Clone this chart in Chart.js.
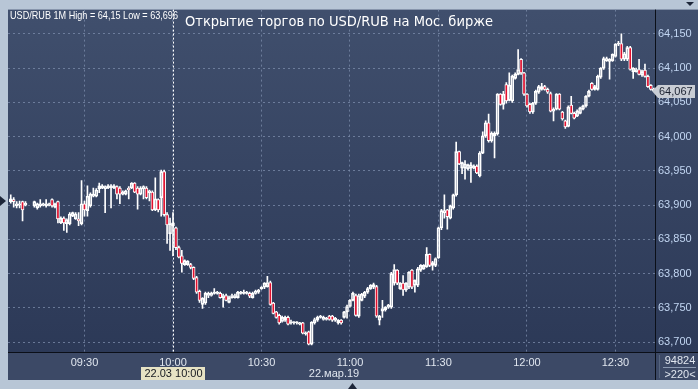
<!DOCTYPE html>
<html>
<head>
<meta charset="utf-8">
<script src="https://cdn.jsdelivr.net/npm/chart.js@4.4.0/dist/chart.umd.min.js"></script>
<style>
  html, body { margin: 0; padding: 0; background: #b8c6d6; }
  #wrap { width: 698px; height: 389px; }
</style>
</head>
<body>
<div id="wrap"><canvas id="chart" width="698" height="389"></canvas></div>
<script>
(function () {
    "use strict";

    /* ---------------- Data: USD/RUB 1M, 22.03.19, one candle per minute from 09:05 ---------------- */
    const firstTime = "09:05";
    const symbolText = "USD/RUB 1M High = 64,15 Low = 63,696";
    const titleText = "Открытие торгов по USD/RUB на Мос. бирже";
    const dateText = "22.мар.19";
    const cursorText = "22.03 10:00";
    const cursorTime = "10:00";
    const volumeText = "94824";
    const barsText = ">220<";
    const lastPrice = 64.067;

    const xTickTimes = ["09:30", "10:00", "10:30", "11:00", "11:30", "12:00", "12:30"];
    const yTickValues = [63.70, 63.75, 63.80, 63.85, 63.90, 63.95, 64.00, 64.05, 64.10, 64.15];

    const opens = [
        63.905, 63.908, 63.899, 63.900, 63.905, 63.900, null, null,
        63.899, 63.896, 63.899, 63.900, 63.899, 63.900, 63.908, 63.897,
        63.905, 63.874, 63.881, 63.873, 63.873, 63.884, 63.880, 63.880,
        63.873, 63.902, 63.892, 63.899, 63.913, 63.913, 63.924, 63.925,
        63.924, 63.925, 63.925, 63.925, 63.927, 63.925, 63.916, 63.916,
        63.925, 63.925, 63.932, 63.925, 63.916, 63.924, 63.925, 63.918,
        63.919, 63.893, 63.908, 63.911, 63.949, 63.886, 63.858, 63.870,
        63.867, 63.838, 63.826, 63.813, 63.813, 63.813, 63.809, 63.794,
        63.774, 63.755, 63.757, 63.768, 63.768, 63.771, 63.771, 63.771,
        63.765, 63.768, 63.758, 63.765, 63.765, 63.765, 63.771, 63.771,
        63.771, 63.771, 63.765, 63.771, 63.773, 63.778, 63.780, 63.781,
        63.787, 63.757, 63.744, 63.739, 63.730, 63.732, 63.736, 63.728,
        63.728, 63.728, 63.726, 63.728, 63.712, 63.715, 63.697, 63.728,
        63.732, 63.736, 63.733, 63.733, 63.738, 63.738, 63.732, 63.728,
        63.732, 63.736, 63.744, 63.752, 63.761, 63.768, 63.738, 63.761,
        63.767, 63.773, 63.778, 63.780, 63.781, 63.732, 63.745, 63.747,
        63.751, 63.751, 63.786, 63.805, 63.778, 63.786, 63.776, 63.780,
        63.805, 63.783, 63.783, 63.805, 63.807, 63.810, 63.828, 63.812,
        63.812, 63.823, 63.867, 63.889, 63.893, 63.881, 63.896, 63.915,
        63.978, 63.954, 63.954, 63.953, 63.954, 63.954, 63.957, 63.943,
        63.976, 64.001, 64.020, 63.994, 64.001, 64.004, 64.062, 64.047,
        64.076, 64.053, 64.052, 64.085, 64.091, 64.113, 64.093, 64.062,
        64.047, 64.036, 64.049, 64.065, 64.069, 64.073, 64.069, 64.063,
        64.037, 64.040, 64.062, 64.036, 64.023, 64.015, 64.046, 64.034,
        64.030, 64.034, 64.040, 64.045, 64.059, 64.078, 64.069, 64.069,
        64.087, 64.100, 64.111, 64.110, 64.111, 64.117, 64.135, 64.136,
        64.113, 64.113, 64.130, 64.095, 64.095, 64.098, 64.090, 64.097,
        64.088, 64.075, 64.069
    ];

    const highs = [
        63.915, 63.911, 63.905, 63.906, 63.906, 63.905, null, null,
        63.906, 63.903, 63.908, 63.903, 63.908, 63.903, 63.909, 63.903,
        63.906, 63.883, 63.883, 63.880, 63.889, 63.890, 63.889, 63.889,
        63.936, 63.906, 63.928, 63.918, 63.925, 63.924, 63.932, 63.930,
        63.928, 63.930, 63.930, 63.930, 63.928, 63.927, 63.921, 63.922,
        63.927, 63.933, 63.933, 63.927, 63.927, 63.928, 63.927, 63.922,
        63.921, 63.940, 63.909, 63.951, 63.951, 63.889, 63.881, 63.889,
        63.868, 63.840, 63.834, 63.820, 63.819, 63.815, 63.810, 63.796,
        63.776, 63.765, 63.773, 63.773, 63.773, 63.778, 63.774, 63.773,
        63.770, 63.770, 63.767, 63.770, 63.770, 63.774, 63.774, 63.776,
        63.774, 63.773, 63.773, 63.776, 63.777, 63.781, 63.787, 63.796,
        63.789, 63.758, 63.745, 63.741, 63.738, 63.738, 63.738, 63.732,
        63.730, 63.730, 63.729, 63.729, 63.715, 63.716, 63.730, 63.735,
        63.738, 63.739, 63.738, 63.736, 63.739, 63.739, 63.736, 63.733,
        63.733, 63.745, 63.754, 63.762, 63.773, 63.770, 63.770, 63.771,
        63.774, 63.780, 63.784, 63.786, 63.783, 63.739, 63.761, 63.752,
        63.755, 63.802, 63.813, 63.806, 63.787, 63.797, 63.787, 63.803,
        63.806, 63.791, 63.809, 63.813, 63.813, 63.838, 63.829, 63.818,
        63.823, 63.868, 63.894, 63.915, 63.894, 63.900, 63.916, 63.992,
        63.979, 63.963, 63.965, 63.960, 63.962, 63.959, 63.959, 63.978,
        64.007, 64.023, 64.033, 64.007, 64.007, 64.063, 64.063, 64.066,
        64.079, 64.093, 64.090, 64.093, 64.127, 64.114, 64.094, 64.063,
        64.049, 64.050, 64.068, 64.075, 64.078, 64.075, 64.071, 64.065,
        64.042, 64.063, 64.063, 64.037, 64.024, 64.045, 64.059, 64.036,
        64.039, 64.043, 64.046, 64.060, 64.068, 64.079, 64.075, 64.090,
        64.101, 64.116, 64.116, 64.114, 64.121, 64.136, 64.139, 64.150,
        64.123, 64.132, 64.132, 64.101, 64.100, 64.113, 64.097, 64.106,
        64.090, 64.076, 64.071
    ];

    const lows = [
        63.903, 63.897, 63.896, 63.896, 63.877, 63.899, null, null,
        63.897, 63.894, 63.897, 63.899, 63.897, 63.899, 63.897, 63.896,
        63.874, 63.873, 63.863, 63.860, 63.871, 63.883, 63.879, 63.870,
        63.871, 63.884, 63.884, 63.897, 63.912, 63.912, 63.918, 63.924,
        63.889, 63.924, 63.896, 63.924, 63.909, 63.902, 63.915, 63.915,
        63.909, 63.924, 63.918, 63.894, 63.915, 63.909, 63.909, 63.906,
        63.892, 63.892, 63.890, 63.884, 63.884, 63.844, 63.834, 63.826,
        63.835, 63.823, 63.802, 63.812, 63.812, 63.807, 63.791, 63.771,
        63.758, 63.749, 63.755, 63.765, 63.767, 63.770, 63.770, 63.764,
        63.751, 63.760, 63.757, 63.764, 63.764, 63.764, 63.770, 63.770,
        63.770, 63.765, 63.764, 63.770, 63.771, 63.777, 63.778, 63.780,
        63.754, 63.741, 63.735, 63.726, 63.729, 63.730, 63.725, 63.726,
        63.726, 63.726, 63.725, 63.712, 63.710, 63.696, 63.696, 63.726,
        63.730, 63.735, 63.732, 63.732, 63.732, 63.730, 63.730, 63.726,
        63.726, 63.735, 63.735, 63.751, 63.760, 63.738, 63.736, 63.760,
        63.765, 63.771, 63.777, 63.778, 63.736, 63.725, 63.736, 63.745,
        63.749, 63.749, 63.783, 63.784, 63.777, 63.768, 63.774, 63.778,
        63.778, 63.773, 63.781, 63.803, 63.806, 63.809, 63.810, 63.805,
        63.810, 63.822, 63.864, 63.881, 63.865, 63.880, 63.894, 63.913,
        63.959, 63.946, 63.938, 63.951, 63.933, 63.953, 63.946, 63.941,
        63.975, 63.999, 63.992, 63.992, 63.969, 64.002, 64.046, 64.040,
        64.049, 64.052, 64.050, 64.084, 64.090, 64.091, 64.060, 64.043,
        64.034, 64.034, 64.047, 64.063, 64.068, 64.068, 64.063, 64.036,
        64.023, 64.039, 64.039, 64.024, 64.012, 64.014, 64.033, 64.026,
        64.029, 64.033, 64.039, 64.043, 64.058, 64.068, 64.068, 64.068,
        64.085, 64.098, 64.110, 64.084, 64.110, 64.116, 64.133, 64.111,
        64.111, 64.111, 64.097, 64.085, 64.094, 64.090, 64.088, 64.087,
        64.072, 64.068, 64.066
    ];

    const closes = [
        63.909, 63.905, 63.902, 63.902, 63.893, 63.903, null, null,
        63.905, 63.902, 63.902, 63.902, 63.902, 63.902, 63.899, 63.902,
        63.880, 63.881, 63.874, 63.879, 63.887, 63.889, 63.887, 63.877,
        63.902, 63.893, 63.913, 63.916, 63.916, 63.922, 63.928, 63.928,
        63.927, 63.928, 63.928, 63.928, 63.916, 63.916, 63.919, 63.921,
        63.922, 63.932, 63.919, 63.916, 63.925, 63.927, 63.911, 63.921,
        63.893, 63.909, 63.893, 63.949, 63.886, 63.871, 63.873, 63.874,
        63.838, 63.824, 63.815, 63.819, 63.818, 63.809, 63.793, 63.773,
        63.761, 63.764, 63.771, 63.771, 63.771, 63.773, 63.773, 63.765,
        63.768, 63.761, 63.765, 63.768, 63.768, 63.773, 63.773, 63.773,
        63.773, 63.767, 63.771, 63.774, 63.776, 63.780, 63.786, 63.787,
        63.755, 63.742, 63.736, 63.728, 63.736, 63.736, 63.726, 63.730,
        63.729, 63.729, 63.728, 63.713, 63.713, 63.697, 63.729, 63.733,
        63.736, 63.738, 63.736, 63.735, 63.733, 63.732, 63.735, 63.732,
        63.728, 63.744, 63.752, 63.761, 63.771, 63.739, 63.768, 63.770,
        63.773, 63.778, 63.783, 63.784, 63.738, 63.738, 63.749, 63.751,
        63.754, 63.800, 63.806, 63.786, 63.786, 63.776, 63.786, 63.802,
        63.780, 63.790, 63.807, 63.812, 63.812, 63.828, 63.812, 63.816,
        63.822, 63.867, 63.892, 63.892, 63.883, 63.899, 63.915, 63.978,
        63.960, 63.962, 63.960, 63.959, 63.959, 63.957, 63.947, 63.976,
        64.001, 64.020, 63.994, 64.005, 64.005, 64.062, 64.047, 64.062,
        64.052, 64.075, 64.088, 64.091, 64.098, 64.093, 64.062, 64.045,
        64.036, 64.049, 64.066, 64.073, 64.073, 64.069, 64.065, 64.037,
        64.040, 64.062, 64.040, 64.026, 64.014, 64.043, 64.034, 64.027,
        64.037, 64.042, 64.045, 64.059, 64.066, 64.069, 64.073, 64.088,
        64.100, 64.114, 64.114, 64.113, 64.120, 64.135, 64.136, 64.113,
        64.121, 64.130, 64.098, 64.100, 64.098, 64.091, 64.095, 64.088,
        64.073, 64.069, 64.067
    ];

    /* ---------------- Look ---------------- */
    const COL = {
        frame: "#b8c6d6",
        plotTop: "#404f6d",
        plotBottom: "#2c3957",
        axisBottom: "#3c4966",
        grid: "rgba(125,142,172,0.75)",
        candle: "#ffffff",
        down: "#e2102e",
        yTick: "#c2d6f2",
        xTick: "#e0e6ef",
        line: "#0b0f18"
    };
    const FONT = "'Liberation Sans', Arial, sans-serif";

    // visible time window (minutes since midnight) and price window
    const X_MIN = 544.07, X_MAX = 763.4;
    const Y_MIN = 63.6855, Y_MAX = 64.1855;

    const toMin = (s) => { const p = s.split(":"); return +p[0] * 60 + +p[1]; };
    const fmtMin = (m) => {
        const h = Math.floor(m / 60), mm = Math.round(m % 60);
        return String(h).padStart(2, "0") + ":" + String(mm).padStart(2, "0");
    };
    const fmtPrice = (v, d) => v.toFixed(d).replace(".", ",");

    /* ---------------- Build datasets ---------------- */
    const start = toMin(firstTime);
    const bodies = [], upWicks = [], downWicks = [];
    opens.forEach((o, i) => {
        if (o == null) return;
        const c = closes[i];
        const x = start + i;
        bodies.push({ x, y: [o, c], up: c >= o });
        upWicks.push({ x, y: [Math.max(o, c), highs[i]] });
        downWicks.push({ x, y: [lows[i], Math.min(o, c)] });
    });

    /* ---------------- Painting helpers ---------------- */
    function fitText(ctx, text, x, y, width) {
        const w = ctx.measureText(text).width;
        ctx.save();
        ctx.translate(x, y);
        ctx.scale(Math.min(1.2, width / w), 1);
        ctx.fillText(text, 0, 0);
        ctx.restore();
    }

    function tri(ctx, pts, color) {
        ctx.beginPath();
        ctx.moveTo(pts[0], pts[1]);
        ctx.lineTo(pts[2], pts[3]);
        ctx.lineTo(pts[4], pts[5]);
        ctx.closePath();
        ctx.fillStyle = color;
        ctx.fill();
    }

    const backdrop = {
        id: "backdrop",
        beforeDraw(chart) {
            const { ctx, chartArea: a, width, height } = chart;
            ctx.save();
            ctx.fillStyle = COL.frame;
            ctx.fillRect(0, 0, width, height);

            const g = ctx.createLinearGradient(0, a.top, 0, a.bottom);
            g.addColorStop(0, COL.plotTop);
            g.addColorStop(1, COL.plotBottom);
            ctx.fillStyle = g;
            ctx.fillRect(a.left, a.top, width - a.left, a.bottom - a.top);

            ctx.fillStyle = COL.axisBottom;
            ctx.fillRect(a.left, a.bottom, width - a.left, 28);
            ctx.restore();
        }
    };

    const overlay = {
        id: "overlay",
        afterDraw(chart) {
            const { ctx, chartArea: a, width } = chart;
            const xs = chart.scales.x, ys = chart.scales.y;
            ctx.save();

            // crosshair at the cursor time
            const cx = Math.round(xs.getPixelForValue(toMin(cursorTime))) + 0.5;
            ctx.strokeStyle = "#ffffff";
            ctx.lineWidth = 1;
            ctx.setLineDash([2, 2]);
            ctx.beginPath();
            ctx.moveTo(cx, a.top);
            ctx.lineTo(cx, a.bottom);
            ctx.stroke();
            ctx.setLineDash([]);

            // axis separators
            ctx.strokeStyle = COL.line;
            ctx.beginPath();
            ctx.moveTo(a.right + 0.5, a.top);
            ctx.lineTo(a.right + 0.5, a.bottom + 28);
            ctx.moveTo(a.left, a.bottom + 0.5);
            ctx.lineTo(width, a.bottom + 0.5);
            ctx.stroke();

            // header texts
            ctx.fillStyle = "#ffffff";
            ctx.textBaseline = "alphabetic";
            ctx.textAlign = "left";
            ctx.font = "11px " + FONT;
            fitText(ctx, symbolText, 10, 19, 168);
            ctx.font = "14px 'DejaVu Sans', Verdana, sans-serif";
            fitText(ctx, titleText, 185, 26, 308);

            // last price tag
            const py = Math.round(ys.getPixelForValue(lastPrice));
            ctx.fillStyle = "#c9cdd4";
            ctx.beginPath();
            ctx.moveTo(a.right - 3, py);
            ctx.lineTo(a.right + 3, py - 6);
            ctx.lineTo(a.right + 40, py - 6);
            ctx.lineTo(a.right + 40, py + 7);
            ctx.lineTo(a.right + 3, py + 7);
            ctx.closePath();
            ctx.fill();
            ctx.fillStyle = "#1b2130";
            ctx.font = "11px " + FONT;
            ctx.textBaseline = "middle";
            ctx.fillText(fmtPrice(lastPrice, 3), a.right + 4, py + 1);

            // cursor date box
            const bw = ctx.measureText(cursorText).width + 6;
            ctx.fillStyle = "#e6e2c4";
            ctx.fillRect(Math.round(cx - bw / 2), a.bottom + 15, Math.round(bw), 13);
            ctx.fillStyle = "#15181f";
            ctx.textAlign = "center";
            ctx.fillText(cursorText, cx, a.bottom + 22);

            // date under the axis
            ctx.fillStyle = COL.xTick;
            ctx.fillText(dateText, 334, a.bottom + 22);

            // bottom-right counters
            ctx.fillText(volumeText, 680, a.bottom + 9);
            ctx.fillText(barsText, 680, a.bottom + 23);
            ctx.strokeStyle = "#8c9ab2";
            ctx.beginPath();
            ctx.moveTo(663, a.bottom + 15.5);
            ctx.lineTo(696, a.bottom + 15.5);
            ctx.stroke();
            ctx.strokeStyle = "#56647e";
            ctx.beginPath();
            ctx.moveTo(659.5, a.bottom + 3);
            ctx.lineTo(659.5, a.bottom + 26);
            ctx.stroke();

            // frame markers
            tri(ctx, [0, 196, 6, 201, 0, 206], "#1d2639");
            tri(ctx, [686, 2, 694, 2, 690, 6], "#1d2639");
            tri(ctx, [348, 389, 357, 389, 352.5, 383], "#1d2639");

            ctx.restore();
        }
    };

    /* ---------------- Chart ---------------- */
    const barBase = { grouped: false, borderSkipped: false };

    new Chart(document.getElementById("chart").getContext("2d"), {
        type: "bar",
        data: {
            datasets: [
                Object.assign({ data: upWicks, barThickness: 1, backgroundColor: COL.candle, borderWidth: 0, order: 2 }, barBase),
                Object.assign({ data: downWicks, barThickness: 1, backgroundColor: COL.candle, borderWidth: 0, order: 2 }, barBase),
                Object.assign({
                    data: bodies,
                    barThickness: 3,
                    minBarLength: 1,
                    borderWidth: 1,
                    borderColor: COL.candle,
                    backgroundColor: (c) => (c.raw && c.raw.up ? "rgba(0,0,0,0)" : COL.down),
                    order: 1
                }, barBase)
            ]
        },
        options: {
            responsive: false,
            devicePixelRatio: 1,
            animation: false,
            events: [],
            layout: { padding: { left: 8, top: 8, right: 0, bottom: 0 } },
            plugins: { legend: { display: false }, tooltip: { enabled: false } },
            scales: {
                x: {
                    type: "linear",
                    min: X_MIN,
                    max: X_MAX,
                    offset: false,
                    afterFit: (s) => { s.height = 37; },
                    afterBuildTicks: (s) => { s.ticks = xTickTimes.map((t) => ({ value: toMin(t) })); },
                    grid: { color: COL.grid, drawTicks: false, offset: false },
                    border: { display: false, dash: [2, 3] },
                    ticks: {
                        autoSkip: false,
                        maxRotation: 0,
                        padding: 4,
                        color: COL.xTick,
                        font: { family: FONT, size: 11 },
                        callback: (v) => fmtMin(v)
                    }
                },
                y: {
                    type: "linear",
                    position: "right",
                    min: Y_MIN,
                    max: Y_MAX,
                    afterFit: (s) => { s.width = 43; },
                    afterBuildTicks: (s) => { s.ticks = yTickValues.map((v) => ({ value: v })); },
                    grid: { color: COL.grid, drawTicks: false },
                    border: { display: false, dash: [2, 3] },
                    ticks: {
                        autoSkip: false,
                        padding: 3,
                        color: COL.yTick,
                        font: { family: FONT, size: 11 },
                        callback: (v) => fmtPrice(v, 3)
                    }
                }
            }
        },
        plugins: [backdrop, overlay]
    });
})();
</script>
</body>
</html>
